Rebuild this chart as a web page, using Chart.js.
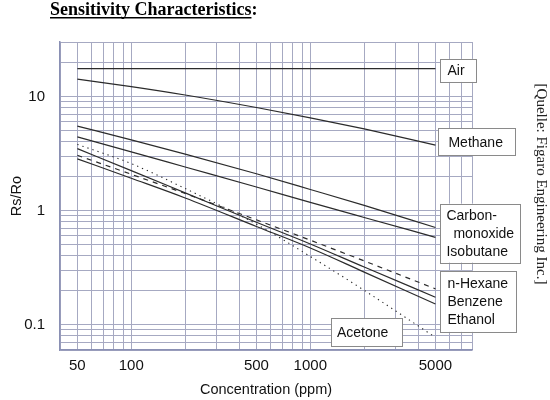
<!DOCTYPE html>
<html>
<head>
<meta charset="utf-8">
<script src="https://cdn.jsdelivr.net/npm/chart.js@4.4.1/dist/chart.umd.min.js"></script>
<style>
  body { margin: 0; background: #fff; }
  #wrap { width: 550px; height: 400px; }
</style>
</head>
<body>
<div id="wrap"><canvas id="SensChart" width="550" height="400"></canvas></div>
<script>
// concentration (ppm) and Rs/Ro
const conc = [50, 100, 200, 500, 1000, 2000, 5000];
const air = [17.5, 17.5, 17.5, 17.5, 17.5, 17.5, 17.5];
const methane = [14.2, 12.2, 10.3, 8.0, 6.5, 5.19, 3.75];
const carbonMonoxide = [5.5, 4.17, 3.12, 2.1, 1.53, 1.11, 0.71];
const isobutane = [4.43, 3.27, 2.41, 1.61, 1.18, 0.87, 0.583];
const nHexane = [3.05, 2.08, 1.41, 0.83, 0.55, 0.362, 0.206];
const benzene = [3.49, 2.24, 1.43, 0.79, 0.51, 0.32, 0.174];
const ethanol = [2.84, 1.92, 1.29, 0.726, 0.47, 0.289, 0.152];
const acetone = [3.8, 2.58, 1.56, 0.76, 0.396, 0.2, 0.0775];

// grid lines and labelled ticks
const xGrid = [40, 50, 60, 70, 80, 90, 100, 200, 300, 400, 500, 600, 700, 800, 900,
               1000, 2000, 3000, 4000, 5000, 6000, 7000, 8000];
const yGrid = [0.06, 0.07, 0.08, 0.09, 0.1, 0.2, 0.3, 0.4, 0.5, 0.6, 0.7, 0.8, 0.9,
               1, 2, 3, 4, 5, 6, 7, 8, 9, 10, 20, 30];
const xLabels = [50, 100, 500, 1000, 5000];
const yLabels = [0.1, 1, 10];

function pts(values) {
  return values.map(function (v, i) { return { x: conc[i], y: v }; });
}

function line(label, values, dash) {
  return {
    label: label,
    data: pts(values),
    borderColor: '#2b2b2b',
    borderWidth: dash && dash[0] < 2 ? 1.1 : 1.2,
    borderDash: dash || [],
    pointRadius: 0,
    fill: false,
    cubicInterpolationMode: 'monotone'
  };
}

const SANS = '"Liberation Sans", Arial, sans-serif';
const SERIF = '"Liberation Serif", "Times New Roman", serif';
const gridColor = '#a6a9c2';

// text boxes at the curve ends, title and source note
const boxes = [
  { lines: ['Air'], x: 5000, y: 16.9, dx: 5, w: 36, h: 23, pad: [7] },
  { lines: ['Methane'], x: 5000, y: 4.0, dx: 3, w: 77, h: 27, pad: [10] },
  { lines: ['Carbon-', 'monoxide', 'Isobutane'], x: 5000, y: 0.634, dx: 5, w: 80, h: 59, pad: [6, 13, 6] },
  { lines: ['n-Hexane', 'Benzene', 'Ethanol'], x: 5000, y: 0.16, dx: 5, w: 76, h: 61, pad: [7, 7, 7] },
  { lines: ['Acetone'], x: 2060, y: 0.086, dx: -35.5, w: 71, h: 28, pad: [6] }
];

const decor = {
  id: 'decor',
  afterDraw: function (chart) {
    const ctx = chart.ctx;
    const xs = chart.scales.x;
    const ys = chart.scales.y;
    ctx.save();

    boxes.forEach(function (b) {
      const left = xs.getPixelForValue(b.x) + b.dx;
      const top = ys.getPixelForValue(b.y) - b.h / 2;
      ctx.fillStyle = '#fff';
      ctx.fillRect(left, top, b.w, b.h);
      ctx.strokeStyle = '#8a8a8a';
      ctx.lineWidth = 1;
      ctx.strokeRect(Math.round(left) + 0.5, Math.round(top) + 0.5, b.w, b.h);
      ctx.fillStyle = '#111';
      ctx.font = '14px ' + SANS;
      ctx.textAlign = 'left';
      ctx.textBaseline = 'middle';
      const step = b.lines.length > 1 ? 18 : 0;
      const first = top + b.h / 2 - step * (b.lines.length - 1) / 2;
      b.lines.forEach(function (t, i) {
        ctx.fillText(t, left + b.pad[i], first + i * step + 1);
      });
    });

    // title, underlined without the colon
    ctx.fillStyle = '#000';
    ctx.font = 'bold 18px ' + SERIF;
    ctx.textAlign = 'left';
    ctx.textBaseline = 'alphabetic';
    const title = 'Sensitivity Characteristics';
    ctx.fillText(title + ':', 50, 15);
    const tw = ctx.measureText(title).width;
    ctx.fillRect(50, 17, tw, 1.5);

    // source note on the right
    ctx.translate(541, 184);
    ctx.rotate(Math.PI / 2);
    ctx.font = '15px ' + SERIF;
    ctx.fillStyle = '#222';
    ctx.textAlign = 'center';
    ctx.textBaseline = 'middle';
    ctx.fillText('[Quelle: Figaro Engineering Inc.]', 0, 0);
    ctx.restore();
  }
};

new Chart(document.getElementById('SensChart'), {
  type: 'line',
  data: {
    datasets: [
      line('Air', air),
      line('Methane', methane),
      line('Carbon-monoxide', carbonMonoxide),
      line('Isobutane', isobutane),
      line('n-Hexane', nHexane, [5, 5]),
      line('Benzene', benzene),
      line('Ethanol', ethanol),
      line('Acetone', acetone, [1.3, 4])
    ]
  },
  options: {
    responsive: false,
    animation: false,
    layout: { padding: { left: 0, top: 42, right: 78, bottom: 0 } },
    plugins: {
      legend: { display: false },
      title: { display: false },
      tooltip: { enabled: false }
    },
    scales: {
      x: {
        type: 'logarithmic',
        min: 40,
        max: 8000,
        afterBuildTicks: function (axis) {
          axis.ticks = xGrid.map(function (v) { return { value: v }; });
        },
        afterFit: function (axis) { axis.height = 50; },
        grid: { color: gridColor, lineWidth: 1, drawTicks: false },
        border: { color: '#8a90b4', width: 1.5 },
        ticks: {
          autoSkip: false,
          maxRotation: 0,
          padding: 7,
          color: '#111',
          font: { family: SANS, size: 15 },
          callback: function (v) { return xLabels.indexOf(v) >= 0 ? String(v) : ''; }
        },
        title: {
          display: true,
          text: 'Concentration (ppm)',
          color: '#111',
          font: { family: SANS, size: 14.5 },
          padding: { top: 0, bottom: 1 }
        }
      },
      y: {
        type: 'logarithmic',
        min: 0.06,
        max: 30,
        afterBuildTicks: function (axis) {
          axis.ticks = yGrid.map(function (v) { return { value: v }; });
        },
        afterFit: function (axis) { axis.width = 60; },
        grid: { color: gridColor, lineWidth: 1, drawTicks: false },
        border: { color: '#8a90b4', width: 1.5 },
        ticks: {
          autoSkip: false,
          padding: 15,
          color: '#111',
          font: { family: SANS, size: 15 },
          callback: function (v) { return yLabels.indexOf(v) >= 0 ? String(v) : ''; }
        },
        title: {
          display: true,
          text: 'Rs/Ro',
          color: '#111',
          font: { family: SANS, size: 14.5 },
          padding: { top: 8, bottom: 0 }
        }
      }
    }
  },
  plugins: [decor]
});
</script>
</body>
</html>
